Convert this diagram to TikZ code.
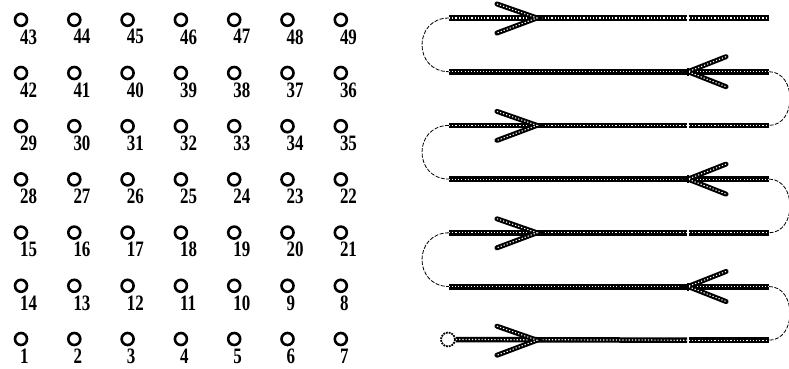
\documentclass[tikz,border=0pt]{standalone}
\usepackage{fontspec}
\setmainfont{Liberation Serif}
\begin{document}
\begin{tikzpicture}[x=1pt,y=-1pt,
  hole/.style={circle,draw=black,line width=2.6pt,minimum size=12pt,inner sep=0pt},
  num/.style={anchor=north west,inner sep=0pt,font=\fontsize{22}{22}\selectfont\bfseries},
  rail/.style={line width=5.5pt,draw=black},
  railin/.style={line width=1.2pt,draw=white,dash pattern=on 1.2pt off 2pt},
  armout/.style={line width=5pt,draw=black,line cap=round},
  armin/.style={line width=1.1pt,draw=white,dash pattern=on 1.2pt off 2pt},
  turn/.style={line width=0.8pt,draw=black,dash pattern=on 4pt off 1.5pt}]
\useasboundingbox (0,0) rectangle (789,369);
% grid of holes
\foreach \r in {0,...,6}{
  \foreach \c in {0,...,6}{
    \pgfmathtruncatemacro{\n}{mod(\r,2)==0 ? 7*\r+\c+1 : 7*\r+7-\c}
    \pgfmathsetmacro{\cx}{21+53.3*\c}
    \pgfmathsetmacro{\cy}{339-53.2*\r}
    \node[hole] (h\n) at (\cx,\cy) {};
    \node[num] (l\n) at (\cx-1,\cy+9.5) {\scalebox{0.77}[1]{\n}};
  }
}
% serpentine path
\foreach \i in {0,...,6}{
  \pgfmathsetmacro{\yy}{18+53.7*\i}
  \coordinate (L\i) at (449,\yy);
  \coordinate (R\i) at (769,\yy);
  \coordinate (G\i) at (688,\yy);
  \coordinate (T\i) at (537,\yy);
  \coordinate (UA\i) at (497,\yy-14);
  \coordinate (DA\i) at (497,\yy+15);
  \coordinate (UB\i) at (726,\yy-15);
  \coordinate (DB\i) at (726,\yy+15);
}
\node[circle,draw=black,line width=1.8pt,densely dotted,minimum size=14pt,inner sep=0pt] (start) at (448,339.5) {};
% rails
\foreach \i in {0,2,4}{
  \draw[rail] (L\i) -- ([xshift=-0.8pt]G\i);
  \draw[railin] (L\i) -- ([xshift=-0.8pt]G\i);
  \draw[rail] ([xshift=0.8pt]G\i) -- (R\i);
  \draw[railin] ([xshift=0.8pt]G\i) -- (R\i);
}
\draw[rail] (start.east) -- ([xshift=-0.8pt]G6);
\draw[railin] (start.east) -- ([xshift=-0.8pt]G6);
\draw[rail] ([xshift=0.8pt]G6) -- (R6);
\draw[railin] ([xshift=0.8pt]G6) -- (R6);
\foreach \i in {1,3,5}{
  \draw[rail,line width=6pt] (L\i) -- (R\i);
  \draw[railin,line width=0.9pt,dash pattern=on 0.9pt off 2.2pt] (L\i) -- (R\i);
}
% arrowheads
\foreach \i in {0,2,4,6}{
  \draw[armout] (UA\i) -- (T\i) -- (DA\i);
  \draw[armin] (UA\i) -- (T\i) -- (DA\i);
}
\foreach \i in {1,3,5}{
  \draw[armout] (UB\i) -- (G\i) -- (DB\i);
  \draw[armin] (UB\i) -- (G\i) -- (DB\i);
  \draw[line width=1.8pt] ([yshift=-4pt]G\i) -- ([yshift=4pt]G\i);
}
% turns
\foreach \a/\b in {0/1,2/3,4/5}{
  \draw[turn] (L\a) .. controls ([xshift=-36pt]L\a) and ([xshift=-36pt]L\b) .. (L\b);
}
\foreach \a/\b in {1/2,3/4,5/6}{
  \draw[turn] (R\a) .. controls ([xshift=28pt]R\a) and ([xshift=28pt]R\b) .. (R\b);
}
\end{tikzpicture}
\end{document}
